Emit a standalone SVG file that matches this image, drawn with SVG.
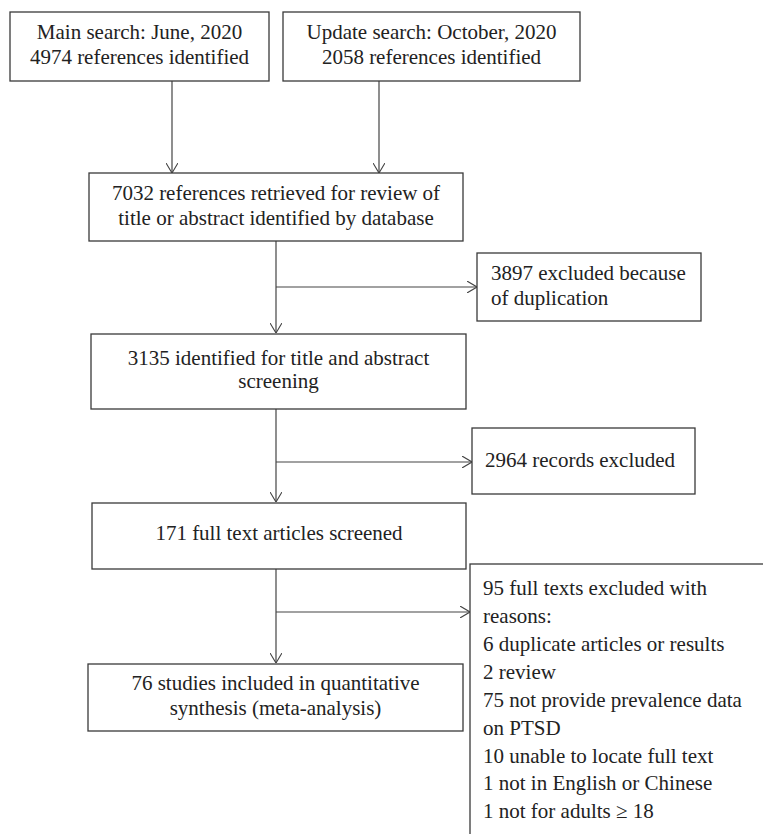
<svg xmlns="http://www.w3.org/2000/svg" width="763" height="834" viewBox="0 0 763 834">
<style>
.box{fill:#fff;stroke:#3a3a3a;stroke-width:1.3}
.t{font-family:"Liberation Serif","Times New Roman",serif;font-size:21px;fill:#222}
.c{text-anchor:middle}
.line{fill:none;stroke:#444;stroke-width:1.2}
</style>
<defs>
<marker id="arr" viewBox="0 0 10 12" refX="10" refY="6" markerWidth="10" markerHeight="12" markerUnits="userSpaceOnUse" orient="auto">
<path d="M0,0 L10,6 L0,12" fill="none" stroke="#444" stroke-width="1.1"/>
</marker>
</defs>
<rect width="763" height="834" fill="#fff"/>
<g id="connectors">
<line class="line" x1="172" y1="81" x2="172" y2="173" marker-end="url(#arr)"/>
<line class="line" x1="379" y1="81" x2="379" y2="173" marker-end="url(#arr)"/>
<line class="line" x1="276" y1="241" x2="276" y2="333" marker-end="url(#arr)"/>
<line class="line" x1="276" y1="287" x2="477" y2="287" marker-end="url(#arr)"/>
<line class="line" x1="276" y1="409" x2="276" y2="502" marker-end="url(#arr)"/>
<line class="line" x1="276" y1="462" x2="472" y2="462" marker-end="url(#arr)"/>
<line class="line" x1="276" y1="569" x2="276" y2="663" marker-end="url(#arr)"/>
<line class="line" x1="276" y1="612" x2="470" y2="612" marker-end="url(#arr)"/>
</g>
<g id="main-search">
<rect class="box" x="10" y="12" width="259" height="69"/>
<text class="t c" x="139.5" y="39">Main search: June, 2020</text>
<text class="t c" x="139.5" y="64">4974 references identified</text>
</g>
<g id="update-search">
<rect class="box" x="283" y="12" width="297" height="69"/>
<text class="t c" x="431.5" y="39">Update search: October, 2020</text>
<text class="t c" x="431.5" y="64">2058 references identified</text>
</g>
<g id="retrieved">
<rect class="box" x="89" y="173" width="374" height="68"/>
<text class="t c" x="276" y="200">7032 references retrieved for review of</text>
<text class="t c" x="276" y="225">title or abstract identified by database</text>
</g>
<g id="duplicates">
<rect class="box" x="477" y="253" width="224" height="68"/>
<text class="t" x="491" y="280">3897 excluded because</text>
<text class="t" x="491" y="305">of duplication</text>
</g>
<g id="screening">
<rect class="box" x="91" y="334" width="375" height="75"/>
<text class="t c" x="278.5" y="365">3135 identified for title and abstract</text>
<text class="t c" x="278.5" y="388">screening</text>
</g>
<g id="records-excluded">
<rect class="box" x="472" y="428" width="223" height="66"/>
<text class="t" x="485" y="467">2964 records excluded</text>
</g>
<g id="full-text">
<rect class="box" x="92" y="503" width="374" height="66"/>
<text class="t c" x="279" y="540">171 full text articles screened</text>
</g>
<g id="included">
<rect class="box" x="88" y="664" width="375" height="67"/>
<text class="t c" x="275.5" y="690">76 studies included in quantitative</text>
<text class="t c" x="275.5" y="715">synthesis (meta-analysis)</text>
</g>
<g id="fulltext-excluded">
<rect class="box" x="470" y="564" width="320" height="290"/>
<text class="t" x="483" y="595">95 full texts excluded with</text>
<text class="t" x="483" y="623">reasons:</text>
<text class="t" x="483" y="651">6 duplicate articles or results</text>
<text class="t" x="483" y="679">2 review</text>
<text class="t" x="483" y="707">75 not provide prevalence data</text>
<text class="t" x="483" y="735">on PTSD</text>
<text class="t" x="483" y="763">10 unable to locate full text</text>
<text class="t" x="483" y="790">1 not in English or Chinese</text>
<text class="t" x="483" y="818">1 not for adults ≥ 18</text>
</g>
</svg>
